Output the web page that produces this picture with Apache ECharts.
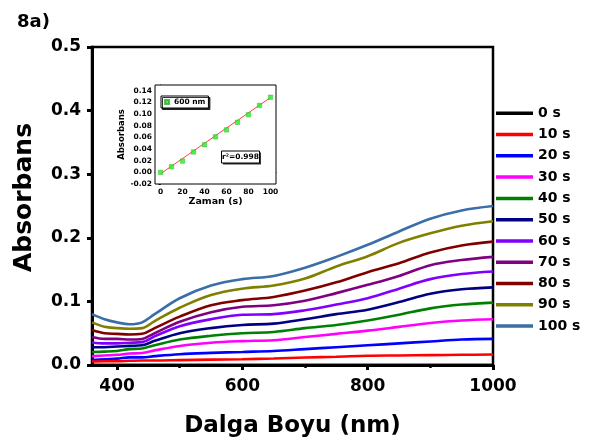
<!DOCTYPE html>
<html>
<head>
<meta charset="utf-8">
<script src="https://cdn.jsdelivr.net/npm/echarts@6/dist/echarts.min.js"></script>
<style>html,body{margin:0;padding:0;background:#fff;}#c{width:592px;height:443px;}</style>
</head>
<body>
<div id="c"></div>
<script>
const wavelengths = [360,380,400,420,440,460,500,550,600,650,700,750,800,850,900,950,1000];
const seriesNames = ['0 s','10 s','20 s','30 s','40 s','50 s','60 s','70 s','80 s','90 s','100 s'];
const seriesColors = ['#000000','#ff0000','#0000ff','#ff00ff','#008000','#000080','#8000ff','#800080','#800000','#808000','#3a6ea8'];
const s0   = [0,0,0,0,0,0,0,0,0,0,0,0,0,0,0,0,0];
const s10  = [.0055,.006,.006,.0066,.007,.007,.0077,.0085,.009,.0103,.0118,.013,.0145,.015,.0155,.016,.0165];
const s20  = [.0077,.009,.010,.012,.012,.014,.017,.019,.0205,.022,.025,.028,.031,.034,.037,.040,.041];
const s30  = [.014,.015,.016,.018,.019,.023,.030,.035,.0375,.039,.044,.049,.054,.060,.066,.070,.072];
const s40  = [.0205,.021,.022,.025,.026,.031,.040,.046,.050,.052,.058,.063,.070,.079,.089,.095,.098];
const s50  = [.028,.028,.029,.030,.031,.038,.050,.058,.063,.065,.072,.080,.087,.099,.112,.119,.122];
const s60  = [.0355,.034,.034,.035,.036,.045,.061,.072,.079,.080,.086,.095,.105,.120,.135,.143,.147];
const s70  = [.044,.041,.041,.040,.041,.050,.068,.083,.0915,.094,.101,.113,.126,.140,.157,.165,.170];
const s80  = [.055,.050,.049,.048,.049,.058,.076,.094,.102,.107,.117,.130,.146,.160,.177,.188,.194];
const s90  = [.067,.060,.058,.057,.058,.069,.090,.110,.120,.125,.136,.155,.171,.192,.207,.219,.226];
const s100 = [.080,.072,.067,.064,.067,.080,.105,.125,.135,.140,.153,.170,.189,.210,.230,.243,.250];
const allSeries = [s0,s10,s20,s30,s40,s50,s60,s70,s80,s90,s100];

const xTickLabels = [400,600,800,1000];
const xMinorTicks = [500,700,900];

// inset data
const insetTimes = [0,10,20,30,40,50,60,70,80,90,100];
const insetAbs = [0.000,0.0097,0.0194,0.035,0.0474,0.061,0.073,0.086,0.099,0.115,0.129];
const insetFitX = [0,100];
const insetFitY = [-0.0025,0.1285];
const insetXTicks = [0,20,40,60,80,100];

const FONT = 'DejaVu Sans';
const chart = echarts.init(document.getElementById('c'), null, {renderer:'canvas'});

const mainSeries = allSeries.map((arr,i)=>({
  name: seriesNames[i], type:'line', xAxisIndex:0, yAxisIndex:0,
  data: wavelengths.map((w,j)=>[w,arr[j]]),
  showSymbol:false, smooth:0.35, z: 3 + (10-i)*0.01,
  lineStyle:{width:2.6,color:seriesColors[i]}, itemStyle:{color:seriesColors[i]},
  emphasis:{disabled:true}
}));

const option = {
  animation:false,
  backgroundColor:'#fff',
  title:{text:'8a)', left:12, top:8, textStyle:{fontFamily:FONT,fontWeight:'bold',fontSize:18,color:'#000'}},
  grid:[
    {left:92,right:99,top:47,bottom:72,show:true,borderColor:'#000',borderWidth:2.5,backgroundColor:'transparent'},
    {left:155,top:85,width:121,height:99,show:true,borderColor:'#000',borderWidth:1,backgroundColor:'#fff',z:10}
  ],
  legend:[
    {data:seriesNames, orient:'vertical', left:496, top:105.3, padding:0, itemWidth:37, itemHeight:3.5, itemGap:5.27, icon:'rect',
     textStyle:{fontFamily:FONT,fontWeight:'bold',fontSize:14,color:'#000',lineHeight:16}, selectedMode:false},
    {data:['600 nm'], left:161, top:96, itemWidth:4, itemHeight:4, icon:'rect', padding:[2,3,2,3],
     borderColor:'#000', borderWidth:1, backgroundColor:'#fff', shadowColor:'rgba(0,0,0,0.8)', shadowOffsetX:1.5, shadowOffsetY:1.5, shadowBlur:0,
     textStyle:{fontFamily:FONT,fontWeight:'bold',fontSize:7.5,color:'#000'}, selectedMode:false, z:20}
  ],
  xAxis:[
    {type:'value', gridIndex:0, min:360, max:1000,
     name:'Dalga Boyu (nm)', nameLocation:'middle', nameGap:50,
     nameTextStyle:{fontFamily:FONT,fontWeight:'bold',fontSize:23,color:'#000'},
     axisLine:{lineStyle:{color:'#000',width:3}},
     axisTick:{show:true,length:5,lineStyle:{width:3,color:'#000'},customValues:xTickLabels},
     axisLabel:{fontFamily:FONT,fontWeight:'bold',fontSize:17,color:'#000',margin:13,customValues:xTickLabels,formatter:v=>String(v)},
     splitLine:{show:false}},
    {type:'value', gridIndex:0, min:360, max:1000, position:'bottom',
     axisLine:{show:false},
     axisTick:{show:true,length:3,lineStyle:{width:2.5,color:'#000'},customValues:xMinorTicks},
     axisLabel:{show:false,customValues:xMinorTicks}, splitLine:{show:false}},
    {type:'value', gridIndex:1, min:-5, max:105,
     name:'Zaman (s)', nameLocation:'middle', nameGap:13,
     nameTextStyle:{fontFamily:FONT,fontWeight:'bold',fontSize:9.5,color:'#000'},
     axisLine:{lineStyle:{color:'#000',width:1}},
     axisTick:{show:true,length:2,lineStyle:{width:1,color:'#000'},customValues:insetXTicks},
     axisLabel:{fontFamily:FONT,fontWeight:'bold',fontSize:7.5,color:'#000',margin:4,customValues:insetXTicks,formatter:v=>String(v)},
     splitLine:{show:false}}
  ],
  yAxis:[
    {type:'value', gridIndex:0, min:0, max:0.5, interval:0.1,
     name:'Absorbans', nameLocation:'middle', nameGap:55,
     nameTextStyle:{fontFamily:FONT,fontWeight:'bold',fontSize:25,color:'#000',padding:[0,0,0,17]},
     axisLine:{show:true,lineStyle:{color:'#000',width:3}},
     axisTick:{show:true,length:5,lineStyle:{width:3,color:'#000'}},
     axisLabel:{fontFamily:FONT,fontWeight:'bold',fontSize:17,color:'#000',margin:11,formatter:v=>v.toFixed(1)},
     splitLine:{show:false}},
    {type:'value', gridIndex:1, min:-0.02, max:0.15, interval:0.02,
     name:'Absorbans', nameLocation:'middle', nameGap:26,
     nameTextStyle:{fontFamily:FONT,fontWeight:'bold',fontSize:8.5,color:'#000'},
     axisLine:{show:true,lineStyle:{color:'#000',width:1}},
     axisTick:{show:true,length:2,lineStyle:{width:1,color:'#000'}},
     axisLabel:{fontFamily:FONT,fontWeight:'bold',fontSize:7.5,color:'#000',margin:3,showMaxLabel:false,formatter:v=>v.toFixed(2)},
     splitLine:{show:false}}
  ],
  graphic:[
    {type:'rect', shape:{x:223,y:152.5,width:38,height:12}, style:{fill:'rgba(0,0,0,0.8)'}, z:100},
    {type:'rect', shape:{x:221.5,y:151,width:38,height:12}, style:{fill:'#fff',stroke:'#000',lineWidth:1}, z:101},
    {type:'text', x:240.5, y:157, style:{text:'r²=0.998', fill:'#000', font:'bold 7.5px "DejaVu Sans"', align:'center', verticalAlign:'middle'}, z:102}
  ],
  series: mainSeries.concat([
    {name:'fit', type:'line', xAxisIndex:2, yAxisIndex:1, data:insetFitX.map((x,i)=>[x,insetFitY[i]]),
     showSymbol:false, lineStyle:{color:'#ff4040',width:1}, z:11, emphasis:{disabled:true}},
    {name:'600 nm', type:'scatter', xAxisIndex:2, yAxisIndex:1, data:insetTimes.map((t,i)=>[t,insetAbs[i]]),
     symbol:'rect', symbolSize:4.5, itemStyle:{color:'#22ee22',borderColor:'#33aa33',borderWidth:0.5}, z:12, emphasis:{disabled:true}}
  ])
};
chart.setOption(option);
</script>
</body>
</html>
